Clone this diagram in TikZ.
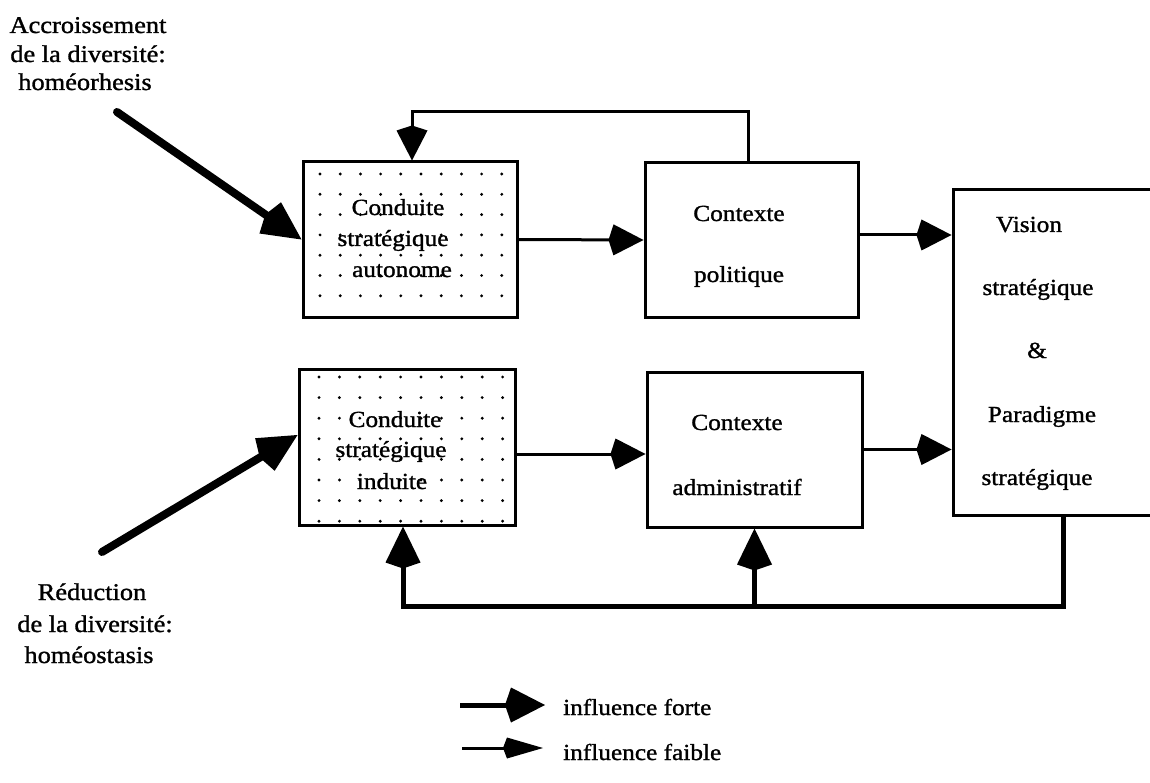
\documentclass[tikz,border=0pt]{standalone}
\usepackage{fontspec}
\setmainfont{Liberation Serif}[FakeStretch=1.1,FakeBold=1.2]
\usetikzlibrary{arrows.meta}
\begin{document}
\begin{tikzpicture}[x=1pt,y=-1pt,
  box/.style={draw, line width=3pt, inner sep=0pt},
  txt/.style={anchor=base, inner sep=0pt, font=\fontsize{23}{28}\selectfont},
  lbl/.style={anchor=base, inner sep=0pt, font=\fontsize{24}{29}\selectfont},
  leg/.style={anchor=base west, inner sep=0pt, font=\fontsize{23}{28}\selectfont},
  conn/.style={line width=3pt, -{Kite[length=35pt,width=31pt,inset=5pt]}},
  fb/.style={line width=5pt, -{Kite[length=42pt,width=35pt,inset=6pt]}},
  diag/.style={line width=8pt, line cap=round, -{Kite[length=44pt,width=38pt,inset=6pt]}},
  dotgrid/.style={fill=black}
]
\useasboundingbox[fill=white] (0,0) rectangle (1150,783);

% boxes
\node[box, minimum width=214pt, minimum height=155pt] (box1) at (410,239.5) {};
\node[box, minimum width=213pt, minimum height=154pt] (box2) at (751.5,240) {};
\node[box, minimum width=216pt, minimum height=156pt] (box3) at (407,447) {};
\node[box, minimum width=215pt, minimum height=155pt] (box4) at (754.5,449.5) {};
\node[box, minimum width=207pt, minimum height=325pt] (vision) at (1056.5,352.5) {};

% dot patterns
\foreach \i in {0,...,9}{
  \foreach \j in {0,...,6}{
    \fill[dotgrid] (320+20.2*\i, 174+20.3*\j) circle (1.6pt);
  }
  \foreach \j in {0,...,7}{
    \fill[dotgrid] (319+20.4*\i, 377+20.6*\j) circle (1.6pt);
  }
}

% box texts
\node[txt] (t1a) at (398,215) {Conduite};
\node[txt] (t1b) at (393,246) {stratégique};
\node[txt] (t1c) at (402,277) {autonome};

\node[txt] (t3a) at (395,427) {Conduite};
\node[txt] (t3b) at (391,457) {stratégique};
\node[txt] (t3c) at (392,489) {induite};

\node[txt] (t2a) at (739,221) {Contexte};
\node[txt] (t2b) at (739,282) {politique};

\node[txt] (t4a) at (737,430) {Contexte};
\node[txt] (t4b) at (737,495) {administratif};

\node[txt] (v1) at (1029,232) {Vision};
\node[txt] (v2) at (1038,295) {stratégique};
\node[txt] (v3) at (1037,358) {\&};
\node[txt] (v4) at (1042,422) {Paradigme};
\node[txt] (v5) at (1037,485) {stratégique};

% side labels
\node[lbl] (la1) at (88,33) {Accroissement};
\node[lbl] (la2) at (88,62) {de la diversité:};
\node[lbl] (la3) at (85,90) {homéorhesis};

\node[lbl] (lb1) at (92,600) {Réduction};
\node[lbl] (lb2) at (95,632) {de la diversité:};
\node[lbl] (lb3) at (89,663) {homéostasis};

% diagonal input arrows
\coordinate (d1) at (117,112);
\coordinate (d2) at (102,552);
\draw[diag] (d1) -- (box1.west);
\draw[diag] (d2) -- ([yshift=12pt]box3.west);

% horizontal arrows
\draw[conn] (box1.east) -- (box2.west);
\draw[conn] ([yshift=5pt]box2.east) -- ([yshift=5pt]box2.east -| vision.west);
\draw[conn] ([yshift=-7pt]box3.east) -- ([yshift=-7pt]box3.east -| box4.west);
\draw[conn] (box4.east) -- (box4.east -| vision.west);

% top feedback
\draw[conn] ([xshift=-3.5pt]box2.north) -- ++(0,-50) -| ([xshift=2pt]box1.north);

% bottom feedback
\coordinate (bl) at (403,606);
\draw[line width=5pt] ([xshift=6.5pt]vision.south) |- ([xshift=-2.5pt]bl);
\draw[fb] ([yshift=-2.5pt]bl) -- ([xshift=-4pt]box3.south);
\draw[fb] (box4.south |- bl) -- (box4.south);

% legend
\coordinate (lf1) at (460,705);
\coordinate (lf2) at (545,705);
\coordinate (lw1) at (462,748);
\coordinate (lw2) at (543,748);
\draw[line width=5pt, -{Kite[length=40pt,width=35pt,inset=6pt]}] (lf1) -- (lf2);
\draw[line width=3pt, -{Kite[length=40pt,width=21pt,inset=4pt]}] (lw1) -- (lw2);
\node[leg] (lt1) at (563,715) {influence forte};
\node[leg] (lt2) at (563,760) {influence faible};
\end{tikzpicture}
\end{document}
